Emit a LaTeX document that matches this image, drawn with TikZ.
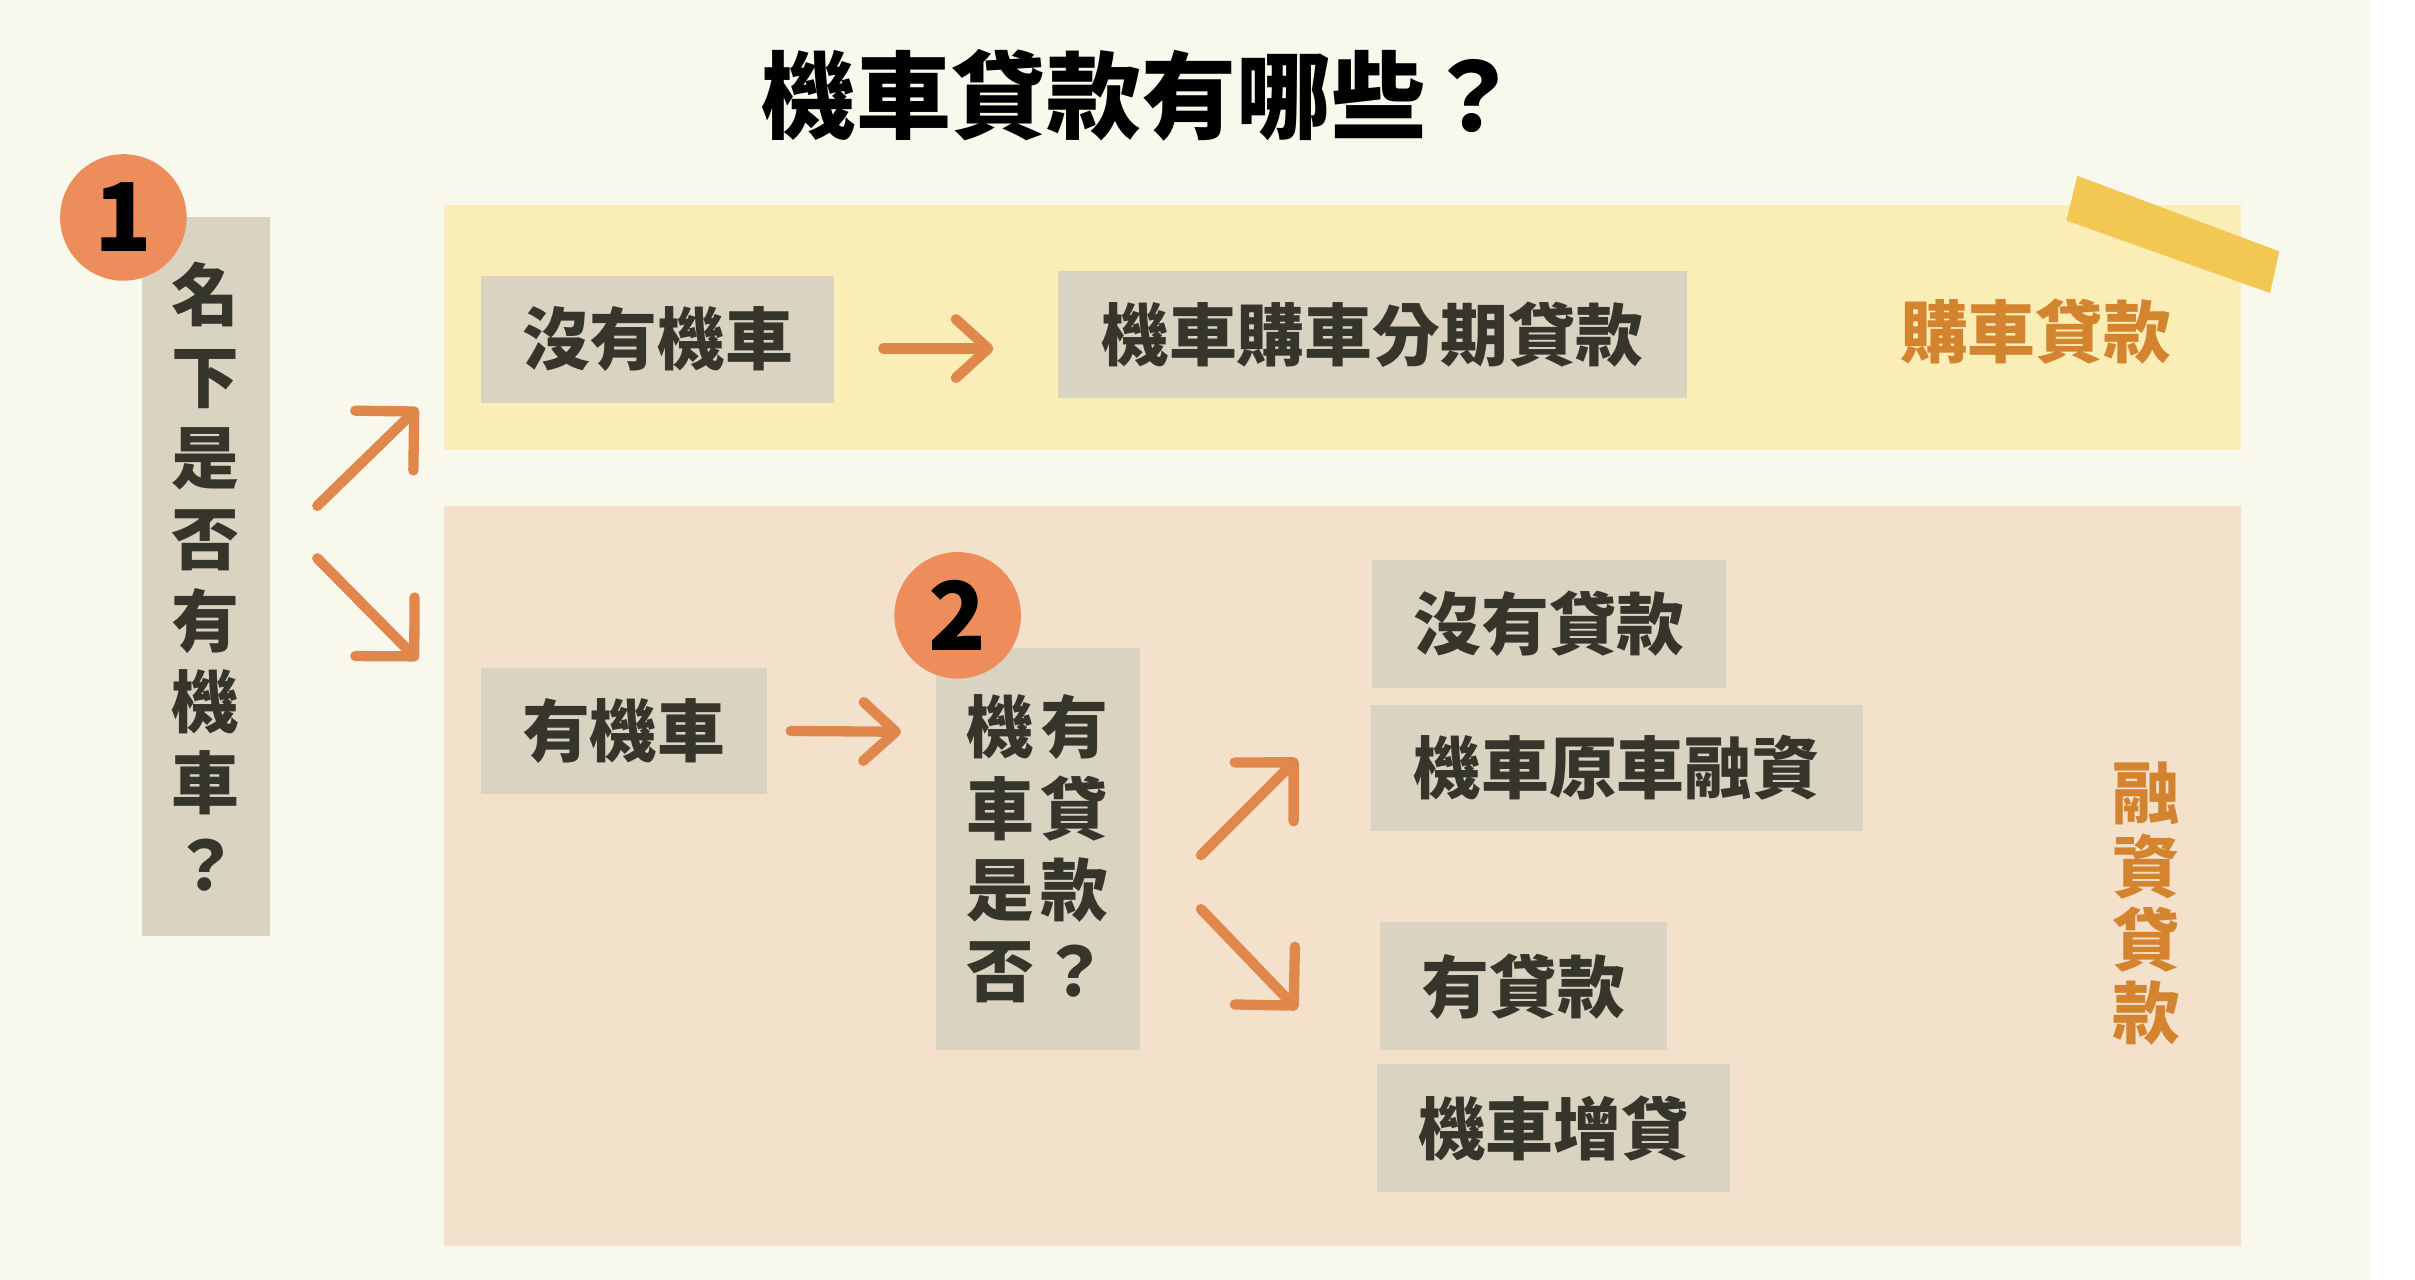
\documentclass[tikz,border=0pt]{standalone}
\usepackage{fontspec}
\usepackage{tikz}
\usetikzlibrary{arrows.meta}
\newfontfamily\cjk{Noto Sans CJK TC}

\definecolor{bgcream}{HTML}{F8F8EC}
\definecolor{buyyellow}{HTML}{FAEDB5}
\definecolor{finpink}{HTML}{F3E1CC}
\definecolor{boxgray}{HTML}{D9D4C2}
\definecolor{inkdark}{HTML}{35352B}
\definecolor{badgeorange}{HTML}{EC8D5B}
\definecolor{arroworange}{HTML}{E0884C}
\definecolor{labelorange}{HTML}{D4832F}
\definecolor{tapeyellow}{HTML}{F2C752}

\newcommand\boxfont{\cjk\bfseries\fontsize{12.5}{15}\selectfont}
\newcommand\titlefont{\cjk\bfseries\fontsize{17.5}{20}\selectfont}

\tikzset{
  band/.style={rectangle,inner sep=0pt},
  optbox/.style={rectangle,fill=boxgray,inner sep=0pt,text=inkdark,font=\boxfont,align=center},
  tag/.style={text=labelorange,font=\boxfont,align=center},
  badge/.style={circle,fill=badgeorange,minimum size=8.2mm,inner sep=0pt,font=\titlefont},
  flowarrow/.style={-{Straight Barb[length=2.1mm,width=3.8mm,round]},line width=1.9pt,arroworange,line cap=round},
  splitarrow/.style={flowarrow,-{Straight Barb[length=2.7mm,width=5.4mm,round]}}
}

\begin{document}
\begin{tikzpicture}[x=0.01cm,y=-0.01cm]
\useasboundingbox (0,0) rectangle (1566,830);
\fill [bgcream] (0,0) rectangle (1537,830);
\fill [white] (1537,0) rectangle (1566,830);

\node [font=\titlefont] (title) at (740,62) {機車貸款有哪些？};

% two groups
\node [band,fill=buyyellow,minimum width=116.5mm,minimum height=15.9mm] (buyband) at (870.5,212.5) {};
\node [band,fill=finpink,minimum width=116.5mm,minimum height=48mm] (finband) at (870.5,568) {};
\fill [tapeyellow] (1347,114) -- (1478,163) -- (1472,190) -- (1340,143) -- cycle;

\node [optbox,minimum width=8.3mm,minimum height=46.6mm] (q1) at (133.5,374) {名\\下\\是\\否\\有\\機\\車\\？};
\node [optbox,minimum width=22.9mm,minimum height=8.2mm] (nocar) at (426.5,220) {沒有機車};
\node [optbox,minimum width=40.8mm,minimum height=8.2mm] (buyloan) at (890,217) {機車購車分期貸款};
\node [tag] (buytag) at (1320,215) {購車貸款};

\node [optbox,minimum width=18.5mm,minimum height=8.2mm] (havecar) at (404.5,474) {有機車};
\node [optbox,minimum width=13.2mm,minimum height=26.1mm] (q2) at (673,550.5) {機\kern0.4mm有\\車\kern0.4mm貸\\是\kern0.4mm款\\否\kern0.4mm？};
\node [optbox,minimum width=22.9mm,minimum height=8.3mm] (noloan) at (1004.5,404.5) {沒有貸款};
\node [optbox,minimum width=31.9mm,minimum height=8.2mm] (refin) at (1048.5,498) {機車原車融資};
\node [optbox,minimum width=18.6mm,minimum height=8.3mm] (hasloan) at (988,639.5) {有貸款};
\node [optbox,minimum width=22.9mm,minimum height=8.3mm] (topup) at (1007.5,731.5) {機車增貸};
\node [tag,font=\cjk\bfseries\fontsize{12.5}{13.5}\selectfont] (fintag) at (1392,586) {融\\資\\貸\\款};

\node [badge] (badge1) at (80,141) {1};
\node [badge] (badge2) at (621,399) {2};

\draw [splitarrow] ([shift={(30,-46)}]q1.east) -- ([shift={(-16,52)}]buyband.west);
\draw [splitarrow] ([shift={(30,-12)}]q1.east) -- ([shift={(-16,-140)}]finband.west);
\draw [flowarrow] ([shift={(31,6)}]nocar.east) -- ([shift={(-41,9)}]buyloan.west);
\draw [flowarrow] ([shift={(15,0)}]havecar.east) -- ([shift={(-22,-76)}]q2.west);
\draw [splitarrow] ([shift={(39,4)}]q2.east) -- ([shift={(-47,-6)}]refin.west);
\draw [splitarrow] ([shift={(39,39)}]q2.east) -- ([shift={(-53,15)}]hasloan.west);
\end{tikzpicture}
\end{document}
